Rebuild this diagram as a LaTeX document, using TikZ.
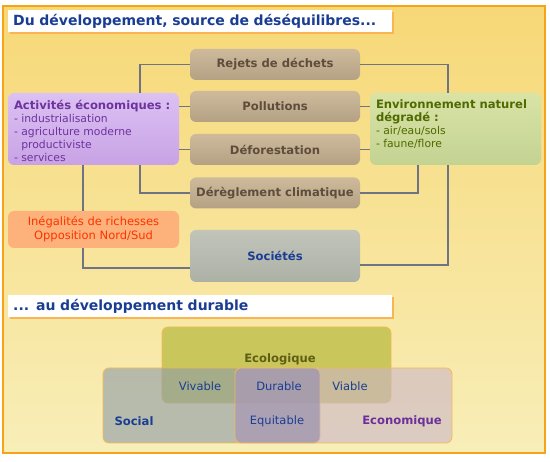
\documentclass[tikz,border=0pt]{standalone}
\usepackage{fontspec}
\setmainfont{DejaVu Sans}
\usetikzlibrary{shadows}
\definecolor{bgtop}{HTML}{F7D877}
\definecolor{bgbot}{HTML}{F8EEB8}
\definecolor{framec}{HTML}{F5A31A}
\definecolor{shadowc}{HTML}{F9B552}
\definecolor{navy}{HTML}{1A3D94}
\definecolor{causetop}{HTML}{CEBA9B}
\definecolor{causebot}{HTML}{B4A184}
\definecolor{causetxt}{HTML}{5E4D3C}
\definecolor{soctop}{HTML}{C2C4BA}
\definecolor{socbot}{HTML}{ACB1A6}
\definecolor{acttop}{HTML}{DCC1F3}
\definecolor{actbot}{HTML}{C8A2E5}
\definecolor{acttxt}{HTML}{6E339E}
\definecolor{envtop}{HTML}{D9E3A6}
\definecolor{envbot}{HTML}{C3D392}
\definecolor{envtxt}{HTML}{4F6A00}
\definecolor{inegfill}{HTML}{FDB27B}
\definecolor{inegtxt}{HTML}{FF3300}
\definecolor{linec}{HTML}{6F7384}
\definecolor{ecofill}{HTML}{C9C65C}
\definecolor{ecotxt}{HTML}{5F5F14}
\definecolor{socfill}{HTML}{8C9BA8}
\definecolor{ecnfill}{HTML}{CAB5C8}
\definecolor{midfill}{HTML}{8D80A6}
\definecolor{vennedge}{HTML}{F5BA55}
\definecolor{ecntxt}{HTML}{6B3099}

\tikzset{
  titlebox/.style={fill=white,text=navy,font=\fontsize{14}{16}\selectfont\bfseries,
    text width=374pt,align=left,inner xsep=5pt,inner ysep=0pt,minimum height=22pt,
    anchor=north west,drop shadow={shadow xshift=2pt,shadow yshift=-2pt,fill=shadowc,opacity=1}},
  cause/.style={rounded corners=6pt,top color=causetop,bottom color=causebot,text=causetxt,
    font=\fontsize{11.6}{13}\selectfont\bfseries,minimum width=170pt,minimum height=31pt},
  panel/.style={rounded corners=6pt,inner xsep=6pt,inner ysep=5pt,font=\fontsize{10.8}{13}\selectfont},
  conn/.style={draw=linec,line width=1.2pt},
  venn/.style={draw=vennedge,line width=0.8pt,rounded corners=6pt},
  vlbl/.style={text=navy,font=\fontsize{11.5}{13}\selectfont}
}

\begin{document}
\begin{tikzpicture}[x=1pt,y=-1pt]
\useasboundingbox (0,0) rectangle (550,462);
\shade[top color=bgtop,bottom color=bgbot] (3,6) rectangle (545,453);
\draw[framec,line width=1.5pt] (3,6) rectangle (545,453);

\node[titlebox] (titre1) at (8,10) {Du développement, source de déséquilibres...};

\foreach \nm/\cy/\lbl in {rejets/64.5/Rejets de déchets,poll/106.5/Pollutions,
    defo/149.5/Déforestation,dereg/193/Dérèglement climatique}
  \node[cause] (\nm) at (275,\cy) {\lbl};
\node[cause,top color=soctop,bottom color=socbot,text=navy,minimum height=52pt] (soc) at (275,256) {Sociétés};

\node[panel,top color=acttop,bottom color=actbot,text=acttxt] (act) at (93.5,129)
  {\parbox[c][62pt][t]{159pt}{\raggedright\vspace*{2pt}{\bfseries\fontsize{11.6}{13}\selectfont Activités économiques :}\\
   - industrialisation\\- agriculture moderne\\\phantom{- }productiviste\\- services}};
\node[panel,top color=envtop,bottom color=envbot,text=envtxt] (env) at (455.5,129)
  {\parbox[c][62pt][t]{159pt}{\raggedright\vspace*{2pt}{\bfseries\fontsize{11.6}{14}\selectfont Environnement naturel\\dégradé :}\\
   - air/eau/sols\\- faune/flore}};
\node[panel,fill=inegfill,text=inegtxt,align=center,minimum width=171pt,minimum height=37pt,
  font=\fontsize{11.5}{14}\selectfont] (ineg) at (93.5,229.5)
  {Inégalités de richesses\\Opposition Nord/Sud};

\coordinate (lbus) at (140,0);
\coordinate (rbus) at (448,0);
\coordinate (rbus2) at (418,0);
\coordinate (sbus) at (83,0);
\draw[conn] (rejets.west) -| (lbus |- act.north);
\draw[conn] (dereg.west) -| (lbus |- act.south);
\draw[conn] (rejets.east) -| (rbus |- env.north);
\draw[conn] ([yshift=-9pt]soc.east) -| (rbus |- env.south);
\draw[conn] (dereg.east) -| (rbus2 |- env.south);
\draw[conn] (poll.west) -- (poll.west -| act.east);
\draw[conn] (defo.west) -- (defo.west -| act.east);
\draw[conn] (poll.east) -- (poll.east -| env.west);
\draw[conn] (defo.east) -- (defo.east -| env.west);
\draw[conn] (sbus |- act.south) -- (sbus |- ineg.north);
\draw[conn] (sbus |- ineg.south) |- ([yshift=-12pt]soc.west);

\node[titlebox] (titre2) at (8,295) {... au développement durable};

\draw[venn,fill=ecofill] (162,327) rectangle (391,403);
\draw[venn,fill=socfill,fill opacity=0.6] (103,368) rectangle (320,443);
\draw[venn,fill=ecnfill,fill opacity=0.6] (235,368) rectangle (452,443);
\fill[midfill,fill opacity=0.4,rounded corners=6pt] (235.4,368.4) rectangle (319.6,442.6);

\node[vlbl,text=ecotxt,font=\fontsize{11.6}{13}\selectfont\bfseries] (eco) at (280,359) {Ecologique};
\node[vlbl] (vivable) at (200,386) {Vivable};
\node[vlbl] (durable) at (279,386) {Durable};
\node[vlbl] (viable) at (350,386) {Viable};
\node[vlbl,font=\fontsize{11.6}{13}\selectfont\bfseries] (social) at (134,421) {Social};
\node[vlbl] (equitable) at (277,421) {Equitable};
\node[vlbl,text=ecntxt,font=\fontsize{11.6}{13}\selectfont\bfseries] (econ) at (402,421) {Economique};
\end{tikzpicture}
\end{document}
